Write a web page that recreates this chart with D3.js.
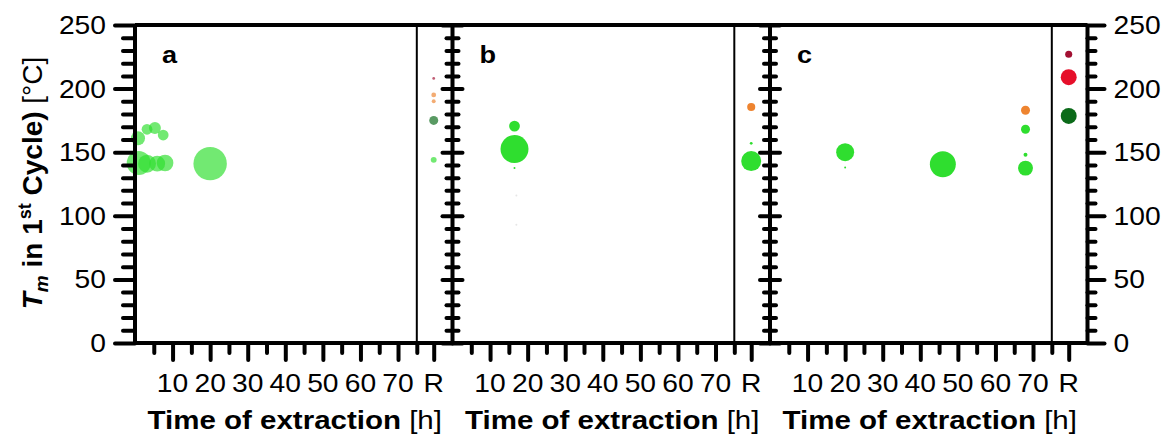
<!DOCTYPE html>
<html lang="en">
<head>
<meta charset="UTF-8">
<title>Tm vs time of extraction</title>
<style>
    body{margin:0;background:#fff;}
    svg text{font-family:Arial,"Liberation Sans",sans-serif;fill:#000;}
</style>
<script src="https://cdn.jsdelivr.net/npm/d3@7"></script>
</head>
<body>
<div id="container"></div>
<script>
var panels = ['a', 'b', 'c'];
var yMajor = [0, 50, 100, 150, 200, 250];
var yMinor = [10, 20, 30, 40, 60, 70, 80, 90, 110, 120, 130, 140, 160, 170, 180, 190, 210, 220, 230, 240];
var xMajor = [10, 20, 30, 40, 50, 60, 70];
var xMinor = [5, 15, 25, 35, 45, 55, 65, 75];
var refLabel = 'R';

// time in hours, 'R' = reference sample; size = relative bubble area
var aTime = [1, 3.2, 5.9, 8, 20, 0.8, 3.2, 5.3, 7.5, 'R', 'R', 'R', 'R', 'R'];
var aTm   = [141.5, 141, 141, 141.5, 141, 161, 168, 169, 163.5, 208, 195, 190, 175, 144];
var aSize = [150, 84, 66, 72, 290, 51, 30, 37, 30, 2, 6, 4, 21, 9];
var aKind = ['g', 'g', 'g', 'g', 'g', 'g', 'g', 'g', 'g', 'dr', 'o', 'o', 'dg', 'g'];

var bTime = [16.5, 16.5, 16.5, 17, 17, 'R', 'R', 'R'];
var bTm   = [170.5, 152.5, 137.5, 116, 93, 185.5, 157, 143];
var bSize = [30, 203, 1, 1, 1, 17, 2, 104];
var bKind = ['g', 'g', 'g', 'faint', 'faint', 'o', 'g', 'g'];

var cTime = [20, 20, 46, 68, 68, 68, 68, 'R', 'R', 'R'];
var cTm   = [150, 138, 140.5, 183, 168, 148, 137.5, 227, 209, 178.5];
var cSize = [84, 1, 175, 21, 21, 4, 58, 13, 66, 66];
var cKind = ['g', 'g', 'g', 'o', 'g', 'g', 'g', 'dr', 'r', 'dg'];

var series = [[aTime, aTm, aSize, aKind], [bTime, bTm, bSize, bKind], [cTime, cTm, cSize, cKind]];

var kindColor = {g: '#2fde2f', o: '#ee8430', dr: '#a21032', r: '#e60f2a', dg: '#0b6a19', faint: '#e6e6e6'};
var panelOpacity = [0.68, 1, 1];

var w = 1162, h = 438, sx = 1.13, lw = 4;
var refPos = 79.5, sepPos = 75, xMax = 84.5;

var svg = d3.select('#container').append('svg').attr('width', w).attr('height', h);

var y = d3.scaleLinear().domain([0, 250]).range([343, 25]);
var panelX = d3.scaleLinear().domain([0, 3]).range([135, 1087.5]);
var rScale = d3.scaleSqrt().domain([0, 300]).range([0, 17]);

function stretch(sel, k) {
    sel.each(function () {
        var t = d3.select(this);
        t.attr('transform', 'translate(' + t.attr('x') + ',' + t.attr('y') + ') scale(' + (k || sx) + ',1)')
            .attr('x', 0).attr('y', 0);
    });
}

function styleTicks(g) {
    g.select('.domain').remove();
    g.selectAll('line').attr('stroke', '#000').attr('stroke-width', lw).attr('stroke-linecap', 'round');
}

panels.forEach(function (p, i) {
    var x0 = panelX(i), x1 = panelX(i + 1);
    var xs = d3.scaleLinear().domain([0, xMax]).range([x0, x1]);
    var g = svg.append('g');
    var s = series[i];

    // points
    var pts = s[0].map(function (t, k) {
        return {x: t === 'R' ? refPos : t, v: s[1][k], size: s[2][k], kind: s[3][k]};
    });
    g.append('g').selectAll('circle').data(pts).enter().append('circle')
        .attr('cx', function (d) { return xs(d.x); })
        .attr('cy', function (d) { return y(d.v); })
        .attr('r', function (d) { return rScale(d.size); })
        .attr('fill', function (d) { return kindColor[d.kind]; })
        .attr('fill-opacity', panelOpacity[i]);

    // separator before reference column
    g.append('line')
        .attr('x1', xs(sepPos)).attr('x2', xs(sepPos))
        .attr('y1', y(250)).attr('y2', y(0))
        .attr('stroke', '#000').attr('stroke-width', 2);

    // bottom ticks
    g.append('g').attr('transform', 'translate(0,' + y(0) + ')')
        .call(d3.axisBottom(xs).tickValues(xMinor).tickSize(10).tickSizeOuter(0).tickFormat(''))
        .call(styleTicks);
    g.append('g').attr('transform', 'translate(0,' + y(0) + ')')
        .call(d3.axisBottom(xs).tickValues(xMajor.concat([refPos])).tickSize(17).tickSizeOuter(0).tickFormat(''))
        .call(styleTicks);

    g.selectAll('text.xl').data(xMajor.map(String).concat([refLabel])).enter().append('text')
        .attr('class', 'xl')
        .attr('x', function (d) { return xs(d === refLabel ? refPos : +d); })
        .attr('y', 392)
        .attr('text-anchor', 'middle')
        .attr('font-size', '25px')
        .text(function (d) { return d; })
        .call(stretch);

    var title = g.append('text')
        .attr('x', (x0 + x1) / 2 + 1).attr('y', 429)
        .attr('text-anchor', 'middle').attr('font-size', '25px');
    title.append('tspan').attr('font-weight', 'bold').text('Time of extraction');
    title.append('tspan').text(' [h]');
    title.call(stretch, 1.18);

    g.append('text')
        .attr('x', x0 + 27).attr('y', 63)
        .attr('font-size', '24px').attr('font-weight', 'bold')
        .text(p)
        .call(stretch);

    // y axis at panel's left edge
    if (i === 0) {
        g.append('g').attr('transform', 'translate(' + x0 + ',0)')
            .call(d3.axisLeft(y).tickValues(yMinor).tickSize(12).tickSizeOuter(0).tickFormat(''))
            .call(styleTicks);
        g.append('g').attr('transform', 'translate(' + x0 + ',0)')
            .call(d3.axisLeft(y).tickValues(yMajor).tickSize(20).tickSizeOuter(0).tickFormat(''))
            .call(styleTicks);
        g.selectAll('text.yl').data(yMajor).enter().append('text')
            .attr('class', 'yl')
            .attr('x', x0 - 29).attr('y', function (d) { return y(d) + 9; })
            .attr('text-anchor', 'end').attr('font-size', '25px')
            .text(function (d) { return d; })
            .call(stretch);
    } else {
        [d3.axisLeft, d3.axisRight].forEach(function (ax) {
            g.append('g').attr('transform', 'translate(' + x0 + ',0)')
                .call(ax(y).tickValues(yMinor).tickSize(6).tickSizeOuter(0).tickFormat(''))
                .call(styleTicks);
            g.append('g').attr('transform', 'translate(' + x0 + ',0)')
                .call(ax(y).tickValues(yMajor).tickSize(10).tickSizeOuter(0).tickFormat(''))
                .call(styleTicks);
        });
    }
    g.append('line')
        .attr('x1', x0).attr('x2', x0).attr('y1', y(250)).attr('y2', y(0))
        .attr('stroke', '#000').attr('stroke-width', lw);
});

// right axis
var xr = panelX(3);
svg.append('g').attr('transform', 'translate(' + xr + ',0)')
    .call(d3.axisRight(y).tickValues(yMinor).tickSize(8).tickSizeOuter(0).tickFormat(''))
    .call(styleTicks);
svg.append('g').attr('transform', 'translate(' + xr + ',0)')
    .call(d3.axisRight(y).tickValues(yMajor).tickSize(17).tickSizeOuter(0).tickFormat(''))
    .call(styleTicks);
svg.append('line')
    .attr('x1', xr).attr('x2', xr).attr('y1', y(250)).attr('y2', y(0))
    .attr('stroke', '#000').attr('stroke-width', lw);
svg.selectAll('text.yr').data(yMajor).enter().append('text')
    .attr('class', 'yr')
    .attr('x', xr + 26).attr('y', function (d) { return y(d) + 9; })
    .attr('font-size', '25px')
    .text(function (d) { return d; })
    .call(stretch);

// frame top and bottom
[250, 0].forEach(function (v) {
    svg.append('line')
        .attr('x1', panelX(0)).attr('x2', panelX(3))
        .attr('y1', y(v)).attr('y2', y(v))
        .attr('stroke', '#000').attr('stroke-width', lw);
});

// y axis title
var yt = svg.append('text')
    .attr('transform', 'translate(42,183) rotate(-90)')
    .attr('text-anchor', 'middle').attr('font-size', '28px').attr('font-weight', 'bold');
yt.append('tspan').attr('font-style', 'italic').text('T');
yt.append('tspan').attr('font-style', 'italic').attr('font-size', '19px').attr('dy', 6).text('m');
yt.append('tspan').attr('dy', -6).text(' in 1');
yt.append('tspan').attr('font-size', '18px').attr('dy', -11).text('st');
yt.append('tspan').attr('dy', 11).text(' Cycle) ');
yt.append('tspan').attr('font-weight', 'normal').text('[°C]');
</script>
</body>
</html>
